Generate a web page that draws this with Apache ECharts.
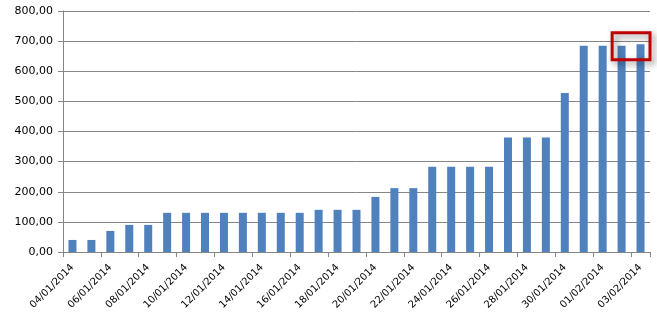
<!DOCTYPE html>
<html>
<head>
<meta charset="utf-8">
<script src="https://cdn.jsdelivr.net/npm/echarts@6/dist/echarts.min.js"></script>
<style>
html,body{margin:0;padding:0;background:#fff;}
#chart{width:657px;height:324px;}
</style>
</head>
<body>
<div id="chart"></div>
<script>
var categories = ['04/01/2014','05/01/2014','06/01/2014','07/01/2014','08/01/2014','09/01/2014','10/01/2014','11/01/2014','12/01/2014','13/01/2014','14/01/2014','15/01/2014','16/01/2014','17/01/2014','18/01/2014','19/01/2014','20/01/2014','21/01/2014','22/01/2014','23/01/2014','24/01/2014','25/01/2014','26/01/2014','27/01/2014','28/01/2014','29/01/2014','30/01/2014','31/01/2014','01/02/2014','02/02/2014','03/02/2014'];
var values = [40,40,70,90,90,130,130,130,130,130,130,130,130,140,140,140,183,212,212,283,283,283,283,380,380,380,528,685,685,685,690];
var highlightRange = ['02/02/2014','03/02/2014'];
var highlightValues = [638,728];

var chart = echarts.init(document.getElementById('chart'), null, {renderer:'canvas'});
var font = 'DejaVu Sans';
var option = {
  animation: false,
  grid: {left: 63, right: 7, top: 11, bottom: 72, containLabel: false},
  xAxis: {
    type: 'category',
    data: categories,
    boundaryGap: true,
    axisLine: {lineStyle: {color: '#868686', width: 1}},
    axisTick: {show: true, interval: 1, length: 5, lineStyle: {color: '#868686'}},
    axisLabel: {interval: 1, rotate: 45, fontFamily: font, fontSize: 10, color: '#000', margin: 14}
  },
  yAxis: {
    type: 'value',
    min: 0, max: 800, interval: 100,
    axisLine: {show: true, lineStyle: {color: '#868686', width: 1}},
    axisTick: {show: true, length: 5, lineStyle: {color: '#868686'}},
    splitLine: {show: true, lineStyle: {color: '#868686', width: 1}},
    axisLabel: {fontFamily: font, fontSize: 11, color: '#000', margin: 10,
      formatter: function (v) { return v.toFixed(2).replace('.', ','); }}
  },
  series: [{
    type: 'bar',
    data: values,
    barWidth: 8,
    itemStyle: {color: '#4F81BD'}
  }]
};
chart.setOption(option);

function drawBox() {
  var p0 = chart.convertToPixel({xAxisIndex: 0, yAxisIndex: 0}, [highlightRange[0], highlightValues[1]]);
  var p1 = chart.convertToPixel({xAxisIndex: 0, yAxisIndex: 0}, [highlightRange[1], highlightValues[0]]);
  var bw = (p1[0] - p0[0]);
  var x0 = p0[0] - bw / 2, x1 = p1[0] + bw / 2;
  chart.setOption({
    graphic: [{
      type: 'rect',
      shape: {x: x0, y: p0[1], width: x1 - x0, height: p1[1] - p0[1]},
      style: {fill: 'rgba(0,0,0,0)', stroke: '#C00000', lineWidth: 3,
        shadowBlur: 6, shadowColor: 'rgba(0,0,0,0.45)', shadowOffsetX: 3, shadowOffsetY: 3},
      z: 100
    }]
  });
}
drawBox();
</script>
</body>
</html>
